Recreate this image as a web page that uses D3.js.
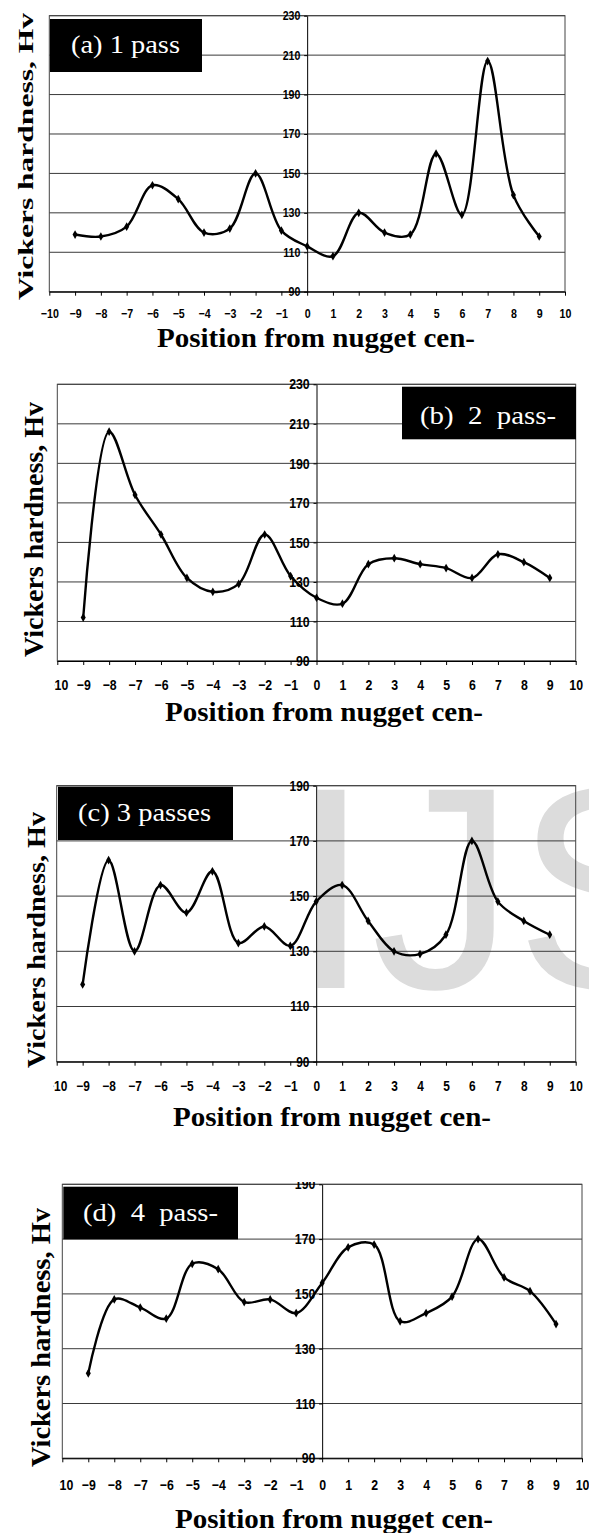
<!DOCTYPE html>
<html>
<head>
<meta charset="utf-8">
<script src="https://cdn.jsdelivr.net/npm/d3@7"></script>
<style>
body { margin: 0; background: #fff; }
svg { display: block; }
</style>
</head>
<body>
<script>
// positions from nugget centre (mm) and hardness
var positions = [-9, -8, -7, -6, -5, -4, -3, -2, -1, 0, 1, 2, 3, 4, 5, 6, 7, 8, 9];
var hardness1Pass = [119, 118, 123, 144, 137, 120, 122, 150, 121, 113, 108, 130, 120, 119, 160, 129, 207, 139, 118];
var hardness2Pass = [112, 206, 174, 154, 132, 125, 129, 154, 133, 122, 119, 139, 142, 139, 137, 132, 144, 140, 132];
var hardness3Pass = [118, 163, 130, 154, 144, 159, 133, 139, 132, 148, 154, 141, 130, 129, 136, 170, 148, 141, 136];
var hardness4Pass = [121, 148, 145, 141, 161, 159, 147, 148, 143, 154, 167, 168, 140, 143, 149, 170, 156, 151, 139];

var xTicks = [-10, -9, -8, -7, -6, -5, -4, -3, -2, -1, 0, 1, 2, 3, 4, 5, 6, 7, 8, 9, 10];
var yTicksHigh = [90, 110, 130, 150, 170, 190, 210, 230];
var yTicksLow = [90, 110, 130, 150, 170, 190];

var captions = ["(a) 1 pass", "(b)  2  pass-", "(c) 3 passes", "(d)  4  pass-"];
var xTitle = "Position from nugget cen-";
var yTitle = "Vickers hardness, Hv";

var serif = "'Liberation Serif', 'Times New Roman', serif";
var sans = "'Liberation Sans', Arial, sans-serif";

// layout of each panel (pixels), values are hooked in below
var panels = [
  { values: hardness1Pass, yTicks: yTicksHigh, left: 49.3, right: 565, top: 15.7, bottom: 291.7,
    tickFs: 12.5, xPad: 13.2, box: [50, 19, 202, 72], cap: [71, 180, 53],
    yLab: [33.3, 156.5, 287, 21], xLab: [475, 347], mask: false },
  { values: hardness2Pass, yTicks: yTicksHigh, left: 57.3, right: 575.7, top: 384.3, bottom: 661,
    tickFs: 14.5, xPad: 14.6, box: [402, 386.7, 576, 439.3], cap: [420, 556, 423.5],
    yLab: [43, 529.5, 255, 27], xLab: [483, 721], mask: true },
  { values: hardness3Pass, yTicks: yTicksLow, left: 56.7, right: 575.7, top: 785.7, bottom: 1061.7,
    tickFs: 14, xPad: 15.6, box: [58, 786.7, 233, 840], cap: [78, 211, 821],
    yLab: [45, 940, 256, 25], xLab: [491, 1126], mask: true },
  { values: hardness4Pass, yTicks: yTicksLow, left: 62.3, right: 582, top: 1184.3, bottom: 1458.3,
    tickFs: 14.5, xPad: 17.3, box: [63.3, 1186.7, 238, 1239.3], cap: [83, 218, 1220.5],
    yLab: [50, 1337.5, 259, 28], xLab: [493, 1528], mask: true }
];

var svg = d3.select("body").append("svg")
    .attr("width", 589)
    .attr("height", 1533);

// light watermark sitting behind panel (c)
svg.append("text")
    .attr("x", 291)
    .attr("y", 988)
    .attr("font-family", sans)
    .attr("font-size", 288)
    .attr("fill", "#dcdcdc")
    .text("IJS");

panels.forEach(function(p, i) {
  var x = d3.scaleLinear().domain([-10, 10]).range([p.left, p.right]);
  var y = d3.scaleLinear().domain([90, d3.max(p.yTicks)]).range([p.bottom, p.top]);
  var g = svg.append("g");

  // horizontal gridlines
  g.selectAll(".grid")
      .data(p.yTicks)
      .enter().append("line")
      .attr("x1", p.left).attr("x2", p.right)
      .attr("y1", function(d) { return y(d); })
      .attr("y2", function(d) { return y(d); })
      .attr("stroke", "#3a3a3a")
      .attr("stroke-width", 1);

  // plot frame
  g.append("rect")
      .attr("x", p.left).attr("y", p.top)
      .attr("width", p.right - p.left).attr("height", p.bottom - p.top)
      .attr("fill", "none")
      .attr("stroke", "#444")
      .attr("stroke-width", 1);

  // x axis along the bottom
  var xAxis = g.append("g")
      .attr("transform", "translate(0," + p.bottom + ")")
      .call(d3.axisBottom(x).tickValues(xTicks).tickSize(4).tickSizeOuter(0).tickPadding(p.xPad));
  xAxis.select(".domain").attr("stroke", "#000");
  xAxis.selectAll("line").attr("stroke", "#000");
  xAxis.selectAll("text")
      .attr("font-family", sans)
      .attr("font-weight", "bold")
      .attr("font-size", p.tickFs)
      .attr("fill", "#000")
      .attr("transform", "scale(0.85,1)");

  // y axis through zero
  var yAxis = g.append("g")
      .attr("transform", "translate(" + x(0) + ",0)")
      .call(d3.axisLeft(y).tickValues(p.yTicks).tickSize(3).tickSizeOuter(0).tickPadding(5));
  yAxis.select(".domain").attr("stroke", "#000");
  yAxis.selectAll("line").attr("stroke", "#000");
  yAxis.selectAll("text")
      .attr("font-family", sans)
      .attr("font-weight", "bold")
      .attr("font-size", p.tickFs)
      .attr("fill", "#000")
      .attr("transform", "scale(0.85,1)");

  var line = d3.line()
      .x(function(d, j) { return x(positions[j]); })
      .y(function(d) { return y(d); })
      .curve(d3.curveCatmullRom.alpha(0.5));

  g.append("path")
      .datum(p.values)
      .attr("d", line)
      .attr("fill", "none")
      .attr("stroke", "#000")
      .attr("stroke-width", 2.4);

  g.selectAll(".pt")
      .data(p.values)
      .enter().append("path")
      .attr("transform", function(d, j) { return "translate(" + x(positions[j]) + "," + y(d) + ")"; })
      .attr("d", d3.symbol(d3.symbolDiamond, 22))
      .attr("fill", "#000");

  // caption box
  g.append("rect")
      .attr("x", p.box[0]).attr("y", p.box[1])
      .attr("width", p.box[2] - p.box[0]).attr("height", p.box[3] - p.box[1])
      .attr("fill", "#000");
  g.append("text")
      .attr("x", p.cap[0]).attr("y", p.cap[2])
      .attr("textLength", p.cap[1] - p.cap[0])
      .attr("lengthAdjust", "spacingAndGlyphs")
      .attr("font-family", serif)
      .attr("font-size", 25)
      .attr("fill", "#fff")
      .style("white-space", "pre")
      .text(captions[i]);

  // axis titles
  g.append("text")
      .attr("x", p.xLab[0]).attr("y", p.xLab[1])
      .attr("text-anchor", "end")
      .attr("textLength", 318)
      .attr("lengthAdjust", "spacingAndGlyphs")
      .attr("font-family", serif)
      .attr("font-weight", "bold")
      .attr("font-size", 27)
      .text(xTitle);

  g.append("text")
      .attr("transform", "translate(" + p.yLab[0] + "," + p.yLab[1] + ") rotate(-90)")
      .attr("text-anchor", "middle")
      .attr("textLength", p.yLab[2])
      .attr("lengthAdjust", "spacingAndGlyphs")
      .attr("font-family", serif)
      .attr("font-weight", "bold")
      .attr("font-size", p.yLab[3])
      .text(yTitle);

  // the cropped originals hide the minus of the "-10" label
  if (p.mask) {
    g.append("rect")
        .attr("x", p.left - 30).attr("y", p.bottom + p.xPad - 4)
        .attr("width", 27).attr("height", 22)
        .attr("fill", "#fff");
  }
});

// top of the "190" label in panel (d) is cut off in the original
svg.append("rect")
    .attr("x", 250).attr("y", 1150)
    .attr("width", 70).attr("height", 32)
    .attr("fill", "#fff");
</script>
</body>
</html>
